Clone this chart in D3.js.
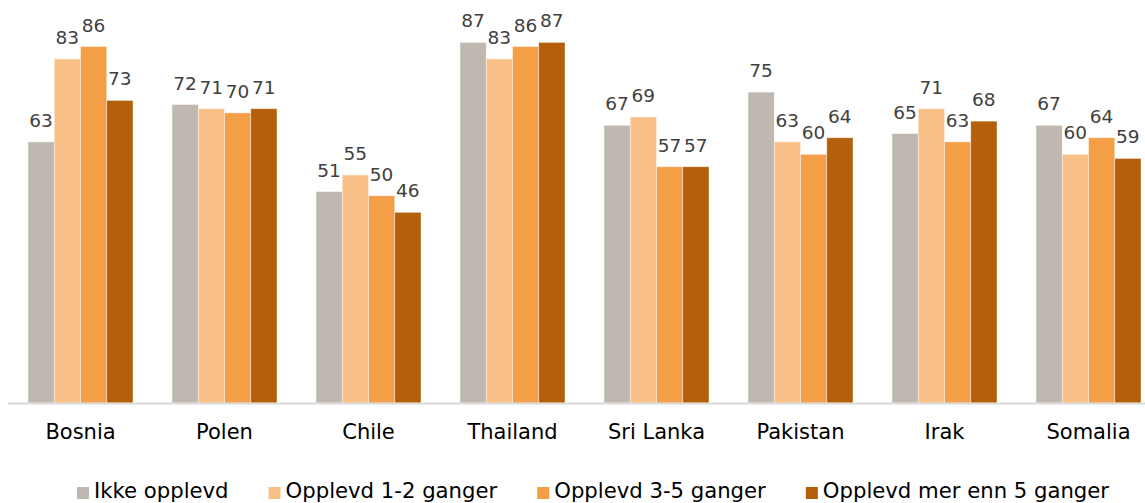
<!DOCTYPE html>
<html>
<head>
<meta charset="utf-8">
<script src="https://cdn.jsdelivr.net/npm/d3@7"></script>
<style>
  body { margin: 0; background: #fff; }
  svg { display: block; font-family: "DejaVu Sans", Verdana, sans-serif; }
</style>
</head>
<body>
<div id="chart"></div>
<script>
// data
var land = ["Bosnia", "Polen", "Chile", "Thailand", "Sri Lanka", "Pakistan", "Irak", "Somalia"];
var serier = ["Ikke opplevd", "Opplevd 1-2 ganger", "Opplevd 3-5 ganger", "Opplevd mer enn 5 ganger"];
var ikkeOpplevd = [63, 72, 51, 87, 67, 75, 65, 67];
var opplevd12 = [83, 71, 55, 83, 69, 63, 71, 60];
var opplevd35 = [86, 70, 50, 86, 57, 60, 63, 64];
var opplevdMer5 = [73, 71, 46, 87, 57, 64, 68, 59];
var farger = ["#bfb8b1", "#f8bf87", "#f59e48", "#b45f0a"];

var verdier = [ikkeOpplevd, opplevd12, opplevd35, opplevdMer5];

var width = 1145, height = 503;
var baseY = 403;

var svg = d3.select("#chart").append("svg")
    .attr("width", width)
    .attr("height", height);

var x = d3.scaleBand()
    .domain(land)
    .range([8.5, 1160.5])
    .paddingInner(39 / 144)
    .paddingOuter(19.5 / 144);

var x1 = d3.scaleBand()
    .domain(d3.range(serier.length))
    .range([0, x.bandwidth()]);

var y = d3.scaleLinear()
    .domain([0, 100])
    .range([baseY, baseY - 414.5]);

// rows: one object per country
var rader = land.map(function (l, i) {
    return { land: l, v: verdier.map(function (s) { return s[i]; }) };
});

var grupper = svg.selectAll("g.gruppe")
    .data(rader)
    .enter()
    .append("g")
    .attr("class", "gruppe")
    .attr("transform", function (d) { return "translate(" + x(d.land) + ",0)"; });

grupper.selectAll("rect")
    .data(function (d) { return d.v; })
    .enter()
    .append("rect")
    .attr("x", function (d, i) { return x1(i); })
    .attr("y", function (d) { return y(d); })
    .attr("width", x1.bandwidth())
    .attr("height", function (d) { return baseY - y(d); })
    .attr("fill", function (d, i) { return farger[i]; })
    .attr("stroke", "#fff")
    .attr("stroke-opacity", 0.5)
    .attr("stroke-width", 0.8);

grupper.selectAll("text.verdi")
    .data(function (d) { return d.v; })
    .enter()
    .append("text")
    .attr("class", "verdi")
    .attr("x", function (d, i) { return x1(i) + x1.bandwidth() / 2; })
    .attr("y", function (d) { return y(d) - 15; })
    .attr("text-anchor", "middle")
    .attr("font-size", 18.5)
    .attr("fill", "#404040")
    .text(function (d) { return d; });

// x axis
var xAxis = svg.append("g")
    .attr("transform", "translate(0," + baseY + ")")
    .call(d3.axisBottom(x).tickSize(0).tickPadding(21));
xAxis.select(".domain")
    .attr("d", "M8,0.5H1145")
    .attr("stroke", "#d9d9d9")
    .attr("stroke-width", 2);
xAxis.selectAll("text")
    .attr("font-size", 21)
    .attr("font-family", "DejaVu Sans, Verdana, sans-serif")
    .attr("fill", "#000");

// legend
var legend = svg.append("g").attr("transform", "translate(77,0)");
var lx = 0;
serier.forEach(function (s, i) {
    var item = legend.append("g").attr("transform", "translate(" + lx + ",0)");
    item.append("rect")
        .attr("x", 0).attr("y", 487)
        .attr("width", 12).attr("height", 12)
        .attr("fill", farger[i]);
    var t = item.append("text")
        .attr("x", 17).attr("y", 498)
        .attr("font-size", 21.2)
        .attr("fill", "#000")
        .text(s);
    lx += 17 + t.node().getComputedTextLength() + 40;
});
</script>
</body>
</html>
